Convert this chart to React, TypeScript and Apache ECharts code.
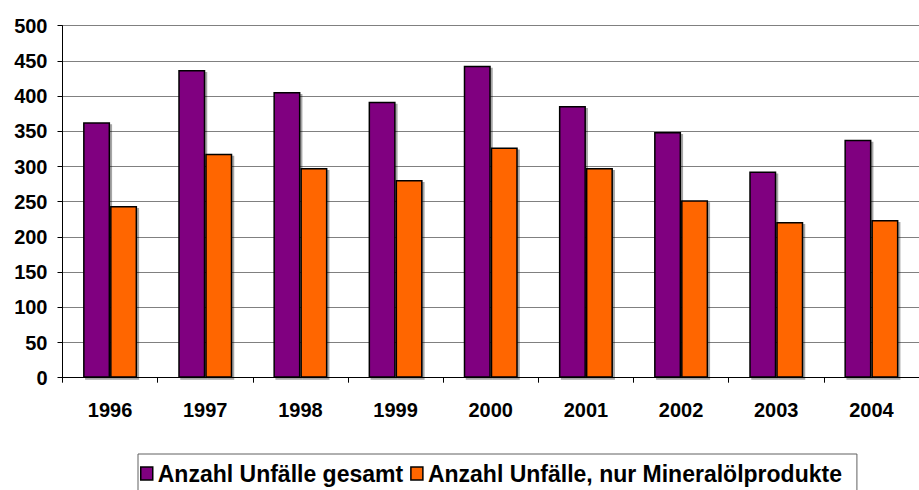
import React, { useEffect, useRef } from "react";
import * as echarts from "echarts";

const years = ["1996", "1997", "1998", "1999", "2000", "2001", "2002", "2003", "2004"];
const gesamt = [363, 437, 406, 392, 443, 386, 349, 293, 338];
const mineraloel = [244, 318, 298, 281, 327, 298, 252, 221, 224];
const seriesNames = ["Anzahl Unfälle gesamt", "Anzahl Unfälle, nur Mineralölprodukte"];

const FONT = "'Liberation Sans', Arial, sans-serif";

export default function App() {
  const ref = useRef<HTMLDivElement>(null);
  useEffect(() => {
    if (!ref.current) return;
    const chart = echarts.init(ref.current, null, { renderer: "svg" });
    const barStyle = (color: string) => ({
      color,
      borderColor: "#000",
      borderWidth: 1.5,
      shadowColor: "rgba(0,0,0,0.35)",
      shadowOffsetX: 2,
      shadowOffsetY: 2,
      shadowBlur: 0,
    });
    chart.setOption({
      animation: false,
      backgroundColor: "#fff",
      textStyle: { fontFamily: FONT },
      grid: { left: 62.5, top: 25.7, height: 352, width: 866, containLabel: false },
      legend: {
        left: 138,
        top: 454,
        itemWidth: 12,
        itemHeight: 13,
        itemGap: 7,
        padding: [8, 15, 12, 2],
        borderColor: "#606060",
        borderWidth: 1,
        icon: "rect",
        textStyle: { fontFamily: FONT, fontSize: 23, fontWeight: "bold", color: "#000" },
        data: seriesNames.map((n) => ({ name: n, itemStyle: { borderColor: "#000", borderWidth: 1.5 } })),
      },
      xAxis: {
        type: "category",
        data: years,
        axisLine: { lineStyle: { color: "#000", width: 1 } },
        axisTick: { show: true, length: 5, lineStyle: { color: "#000" } },
        axisLabel: { fontFamily: FONT, fontSize: 20, fontWeight: "bold", color: "#000", margin: 22 },
      },
      yAxis: {
        type: "value",
        min: 0,
        max: 500,
        interval: 50,
        axisLine: { show: true, lineStyle: { color: "#000", width: 1 } },
        axisTick: { show: true, length: 5, lineStyle: { color: "#000" } },
        splitLine: { lineStyle: { color: "#808080", width: 1 } },
        axisLabel: { fontFamily: FONT, fontSize: 20, fontWeight: "bold", color: "#000", margin: 15 },
      },
      series: [
        {
          name: seriesNames[0],
          type: "bar",
          data: gesamt,
          barWidth: 27,
          barGap: "0%",
          itemStyle: barStyle("#800080"),
        },
        {
          name: seriesNames[1],
          type: "bar",
          data: mineraloel,
          barWidth: 27,
          barGap: "0%",
          itemStyle: barStyle("#FF6600"),
        },
      ],
    });
    return () => chart.dispose();
  }, []);
  return <div ref={ref} style={{ width: 919, height: 490, position: "absolute", left: 0, top: 0 }} />;
}
